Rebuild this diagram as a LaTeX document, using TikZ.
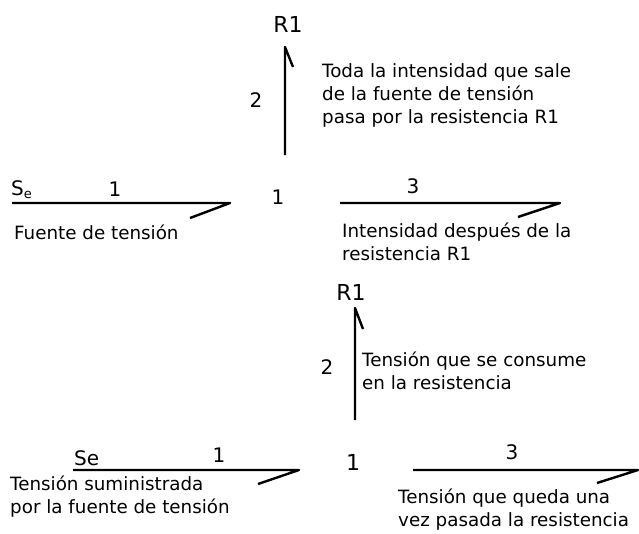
\documentclass[tikz,border=0pt]{standalone}
\usepackage{fontspec}
\setmainfont{DejaVu Sans}
\begin{document}
\begin{tikzpicture}[x=1pt,y=-1pt,
    bond/.style={line width=2.4pt,line join=round},
    lbl/.style={font=\fontsize{20}{23}\selectfont,inner sep=0pt},
    big/.style={font=\fontsize{22}{25}\selectfont,inner sep=0pt},
    txt/.style={font=\fontsize{18.3}{23}\selectfont,align=left,inner sep=0pt,anchor=west}]
    \useasboundingbox (0,0) rectangle (639,533);
    % corriente
    \coordinate (a1) at (12,203);   \coordinate (a2) at (230,203);
    \coordinate (v1) at (285,155);  \coordinate (v2) at (285,47);
    \coordinate (c1) at (340,203);  \coordinate (c2) at (560,203);
    \draw[bond] (a1) -- (a2) -- ++(-40,15);
    \draw[bond] (v1) -- (v2) -- ++(8,20);
    \draw[bond] (c1) -- (c2) -- ++(-42,14);
    \node[big] (rA) at (288,24) {R1};
    \node[lbl] (nA2) at (256,100) {2};
    \node[lbl,anchor=base west] (seA) at (11,195) {S\raisebox{-0.3ex}{\fontsize{13}{13}\selectfont e}};
    \node[lbl] (nA1) at (115,189) {1};
    \node[lbl] (jA) at (278,197) {1};
    \node[lbl] (nA3) at (413,186) {3};
    \node[txt] (tA1) at (14,232) {Fuente de tensión};
    \node[txt] (tA2) at (322,95) {Toda la intensidad que sale\\de la fuente de tensión\\pasa por la resistencia R1};
    \node[txt] (tA3) at (342,241.5) {Intensidad después de la\\resistencia R1};
    % tension
    \coordinate (d1) at (73,470);   \coordinate (d2) at (299,470);
    \coordinate (w1) at (355,420);  \coordinate (w2) at (355,308);
    \coordinate (e1) at (413,470);  \coordinate (e2) at (638,470);
    \draw[bond] (d1) -- (d2) -- ++(-41,14);
    \draw[bond] (w1) -- (w2) -- ++(8,21);
    \draw[bond] (e1) -- (e2) -- ++(-41,13);
    \node[big] (rB) at (351,292) {R1};
    \node[lbl] (nB2) at (327,367) {2};
    \node[lbl,anchor=base west] (seB) at (74,465) {Se};
    \node[lbl] (nB1) at (219,455) {1};
    \node[big] (jB) at (353,462) {1};
    \node[lbl] (nB3) at (512,452) {3};
    \node[txt] (tB1) at (10,496.5) {Tensión suministrada\\por la fuente de tensión};
    \node[txt] (tB2) at (362,371) {Tensión que se consume\\en la resistencia};
    \node[txt] (tB3) at (398,510) {Tensión que queda una\\vez pasada la resistencia};
\end{tikzpicture}
\end{document}
